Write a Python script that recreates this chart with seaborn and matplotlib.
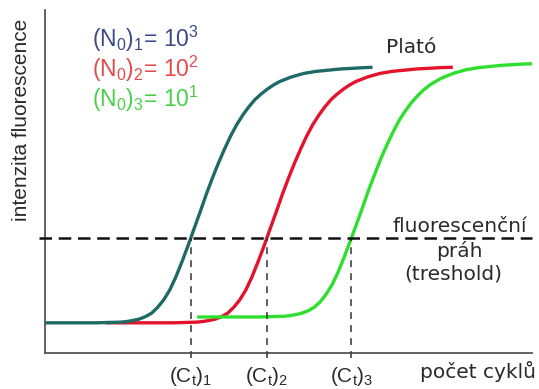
import numpy as np
import matplotlib
matplotlib.use("Agg")
import matplotlib.pyplot as plt
import matplotlib.transforms as mtransforms
import seaborn as sns

# Real-time PCR amplification curves: cycle number vs. fluorescence (% of full scale)
cycles_1 = [0, 4.25, 5.25, 5.75, 6.25, 6.75, 7.25, 7.75, 8.25, 8.75, 9.25, 9.75, 10.25,
            10.75, 11.25, 11.75, 12.25, 12.75, 13.25, 13.75, 14.25, 14.75, 15.25,
            15.75, 16.25, 16.75, 17.25, 17.75, 18.25, 18.75, 19.25, 19.75, 20.25,
            21.25, 22.25, 24.25, 26.25, 26.9]
fluor_1 = [8.8, 8.8, 8.9, 8.95, 9.0, 9.2, 9.5, 9.9, 10.6, 11.6, 13.3, 15.5, 18.4,
           22.2, 26.6, 31.3, 36.3, 41.2, 46.3, 51.0, 55.4, 59.5, 63.3,
           66.6, 69.4, 71.8, 73.9, 75.5, 76.9, 78.1, 79.1, 79.8, 80.5,
           81.5, 82.1, 82.8, 83.2, 83.3]

cycles_2 = [5, 10.5, 11.5, 12, 12.5, 13, 13.5, 14, 14.5, 15, 15.5, 16, 16.5,
            17, 17.5, 18, 18.5, 19, 19.5, 20, 20.5, 21, 21.5,
            22, 22.5, 23, 23.5, 24, 24.5, 25, 25.5, 26, 26.5,
            27.5, 28.5, 30.5, 32.5, 33.5]
fluor_2 = [8.8, 8.8, 8.9, 8.95, 9.0, 9.2, 9.5, 9.9, 10.6, 11.6, 13.3, 15.5, 18.4,
           22.2, 26.6, 31.3, 36.3, 41.2, 46.3, 51.0, 55.4, 59.5, 63.3,
           66.6, 69.4, 71.8, 73.9, 75.5, 76.9, 78.1, 79.1, 79.8, 80.5,
           81.5, 82.1, 82.8, 83.2, 83.3]

cycles_3 = [12.5, 17.6, 18.6, 19.1, 19.6, 20.1, 20.6, 21.1, 21.6, 22.1, 22.6, 23.1, 23.6,
            24.1, 24.6, 25.1, 25.6, 26.1, 26.6, 27.1, 27.6, 28.1, 28.6,
            29.1, 29.6, 30.1, 30.6, 31.1, 31.6, 32.1, 32.6, 33.1, 33.6,
            34.6, 35.6, 37.6, 39.6, 40]
fluor_3 = [10.5, 10.5, 10.6, 10.65, 10.7, 10.9, 11.2, 11.6, 12.3, 13.3, 14.9, 17.2, 20.0,
           23.8, 28.2, 32.9, 37.7, 42.6, 47.7, 52.3, 56.8, 60.8, 64.5,
           67.9, 70.6, 73.0, 75.0, 76.7, 78.1, 79.2, 80.2, 80.9, 81.6,
           82.6, 83.2, 83.9, 84.3, 84.3]

threshold = 33.5

series_labels = [r"$(\mathrm{N_0})_1$= 10$^3$",
                 r"$(\mathrm{N_0})_2$= 10$^2$",
                 r"$(\mathrm{N_0})_3$= 10$^1$"]
ct_labels = [r"$(\mathrm{C_t})_1$", r"$(\mathrm{C_t})_2$", r"$(\mathrm{C_t})_3$"]

line_colors = ["#1d6a67", "#e3132c", "#2edf2e"]
label_colors = ["#3c4a8a", "#e24a4a", "#48d048"]
text_color = "#2a2a2a"

sns.set_style("white")
plt.rcParams["font.family"] = ["Liberation Sans", "DejaVu Sans"]
plt.rcParams["mathtext.fontset"] = "custom"
plt.rcParams["mathtext.rm"] = "Liberation Sans"
plt.rcParams["mathtext.it"] = "Liberation Sans:italic"
plt.rcParams["mathtext.bf"] = "Liberation Sans:bold"

W, H = 539, 389
fig = plt.figure(figsize=(W / 100, H / 100), dpi=100)
ax = fig.add_axes([45 / W, 1 - 353 / H, 487 / W, 343 / H])

# draw order: red below teal, green on top
for x, y, c in [(cycles_2, fluor_2, line_colors[1]),
                (cycles_1, fluor_1, line_colors[0]),
                (cycles_3, fluor_3, line_colors[2])]:
    sns.lineplot(x=x, y=y, ax=ax, color=c, linewidth=2.4, sort=False,
                 estimator=None, solid_capstyle="butt")

ax.set_xlim(0, 40)
ax.set_ylim(0, 100)
ax.set_xticks([])
ax.set_yticks([])
ax.set_xlabel("")
ax.set_ylabel("")
sns.despine(ax=ax)
for side in ("left", "bottom"):
    ax.spines[side].set_color("#555555")
    ax.spines[side].set_linewidth(1.3)

# fluorescence threshold
ax.axhline(threshold, xmin=-0.012, xmax=1.0, color="#111111", linewidth=1.8,
           dashes=(5, 2.7), clip_on=False, zorder=4)

# threshold cycles, where each curve crosses the threshold
cts = [float(np.interp(threshold, f, c))
       for c, f in [(cycles_1, fluor_1), (cycles_2, fluor_2), (cycles_3, fluor_3)]]
blend = mtransforms.blended_transform_factory(ax.transData, fig.transFigure)
for ct, lab in zip(cts, ct_labels):
    ax.vlines(ct, -1.6, threshold, colors="#333333", linewidth=1.1,
              linestyles=(0, (4.5, 4)), clip_on=False, zorder=3)
    ax.text(ct, 1 - 382 / H, lab, transform=blend, ha="center", va="baseline",
            fontsize=15, color=text_color)

# legend of starting copy numbers
for i, (lab, col) in enumerate(zip(series_labels, label_colors)):
    fig.text(92 / W, 1 - (47 + 30 * i) / H, lab, ha="left", va="baseline",
             fontsize=16.5, color=col)

dv = ["DejaVu Sans"]
fig.text(411 / W, 1 - 53 / H, "Plató", ha="center", va="baseline",
         fontsize=14.5, color=text_color, family=dv)
fig.text(460 / W, 1 - 232 / H, "fluorescenční", ha="center", va="baseline",
         fontsize=14.5, color=text_color, family=dv)
fig.text(459 / W, 1 - 257 / H, "práh", ha="center", va="baseline",
         fontsize=14.5, color=text_color, family=dv)
fig.text(453 / W, 1 - 280 / H, "(treshold)", ha="center", va="baseline",
         fontsize=14.5, color=text_color, family=dv)
fig.text(478 / W, 1 - 378 / H, "počet cyklů", ha="center", va="baseline",
         fontsize=14.5, color=text_color, family=dv)

fig.text(22 / W, 1 - 120 / H, "intenzita fluorescence", rotation=90,
         ha="center", va="center", fontsize=15, color=text_color)

fig.savefig("out.png", dpi=100)
